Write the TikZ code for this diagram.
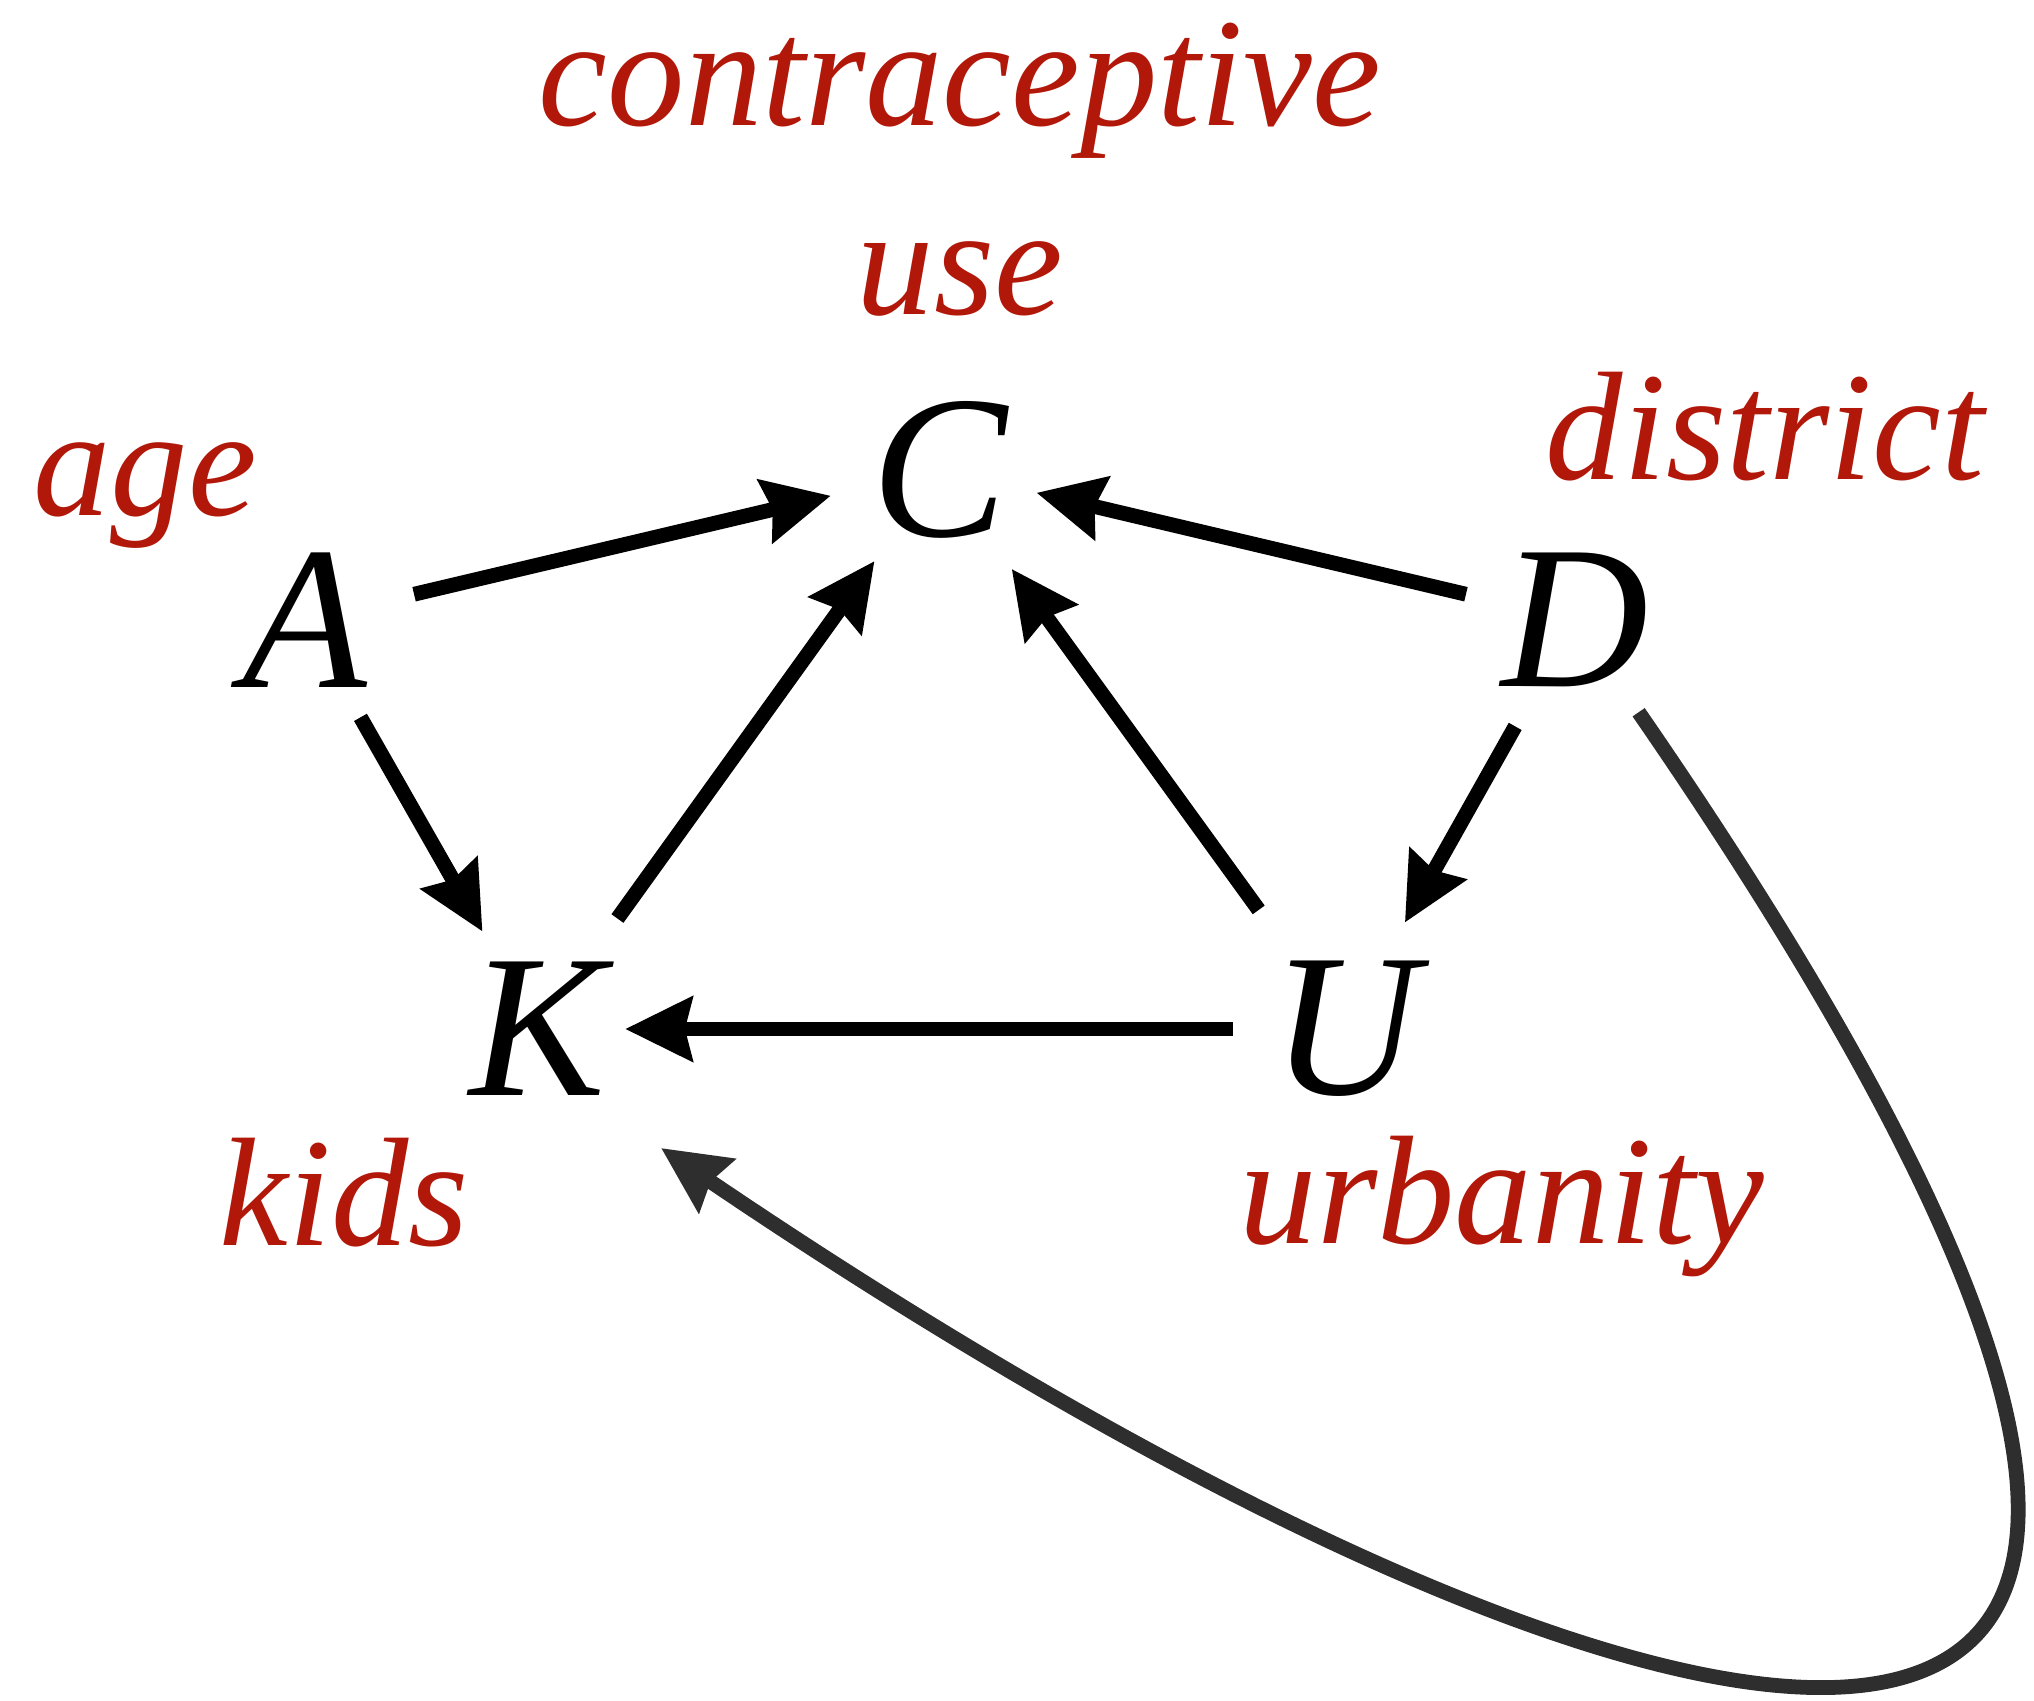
\documentclass[tikz,border=0pt]{standalone}
\usepackage{fontspec}
\setmainfont{Liberation Serif}
\usepackage{xcolor}
\usepackage{tikz}
\usetikzlibrary{arrows.meta}
\definecolor{labred}{RGB}{178,24,10}
\definecolor{loopgray}{RGB}{46,46,46}

\begin{document}
\begin{tikzpicture}[x=0.01cm, y=-0.01cm,
    var/.style={circle, minimum size=2.24cm, inner sep=0pt, outer sep=0pt,
                font=\fontsize{58}{60}\selectfont\itshape},
    lab/.style={text=labred, anchor=base, align=center,
                font=\fontsize{44}{54}\selectfont\itshape},
    arr/.style={line width=4.2pt, -{Stealth[length=19pt, width=18pt, inset=2pt]}}]
        \useasboundingbox (0,0) rectangle (2034,1701);

        % variables
        \node[var] (C) at (940,470) {C};
        \node[var] (A) at (305,620) {A};
        \node[var] (D) at (1575,620) {D};
        \node[var] (K) at (538,1029) {K};
        \node[var] (U) at (1345,1029) {U};

        % red captions
        \node[lab] (cuse) at (960,315) {contraceptive\\use};
        \node[lab] (age) at (145,516) {age};
        \node[lab] (dist) at (1765,480) {district};
        \node[lab] (kids) at (344,1245) {kids};
        \node[lab] (urb) at (1502,1243) {urbanity};

        \foreach \a/\b in {A/C, A/K}
          \draw[arr] (\a) -- (\b);
        \draw[arr, shorten >=-0.13cm] (D) -- (C);
        \draw[arr, shorten <=0.24cm] (K) -- (C);
        \draw[arr, shorten <=0.35cm, shorten >=0.1cm] (U) -- (C);
        \draw[arr, shorten <=0.1cm, shorten >=0.1cm] (D) -- (U);
        \draw[arr, shorten >=-0.25cm] (U) -- (K);
        \draw[arr, loopgray] (D) .. controls (2530,2005) and (1700,1852) .. ([shift={(123,119)}]K.center);
      \end{tikzpicture}
\end{document}
